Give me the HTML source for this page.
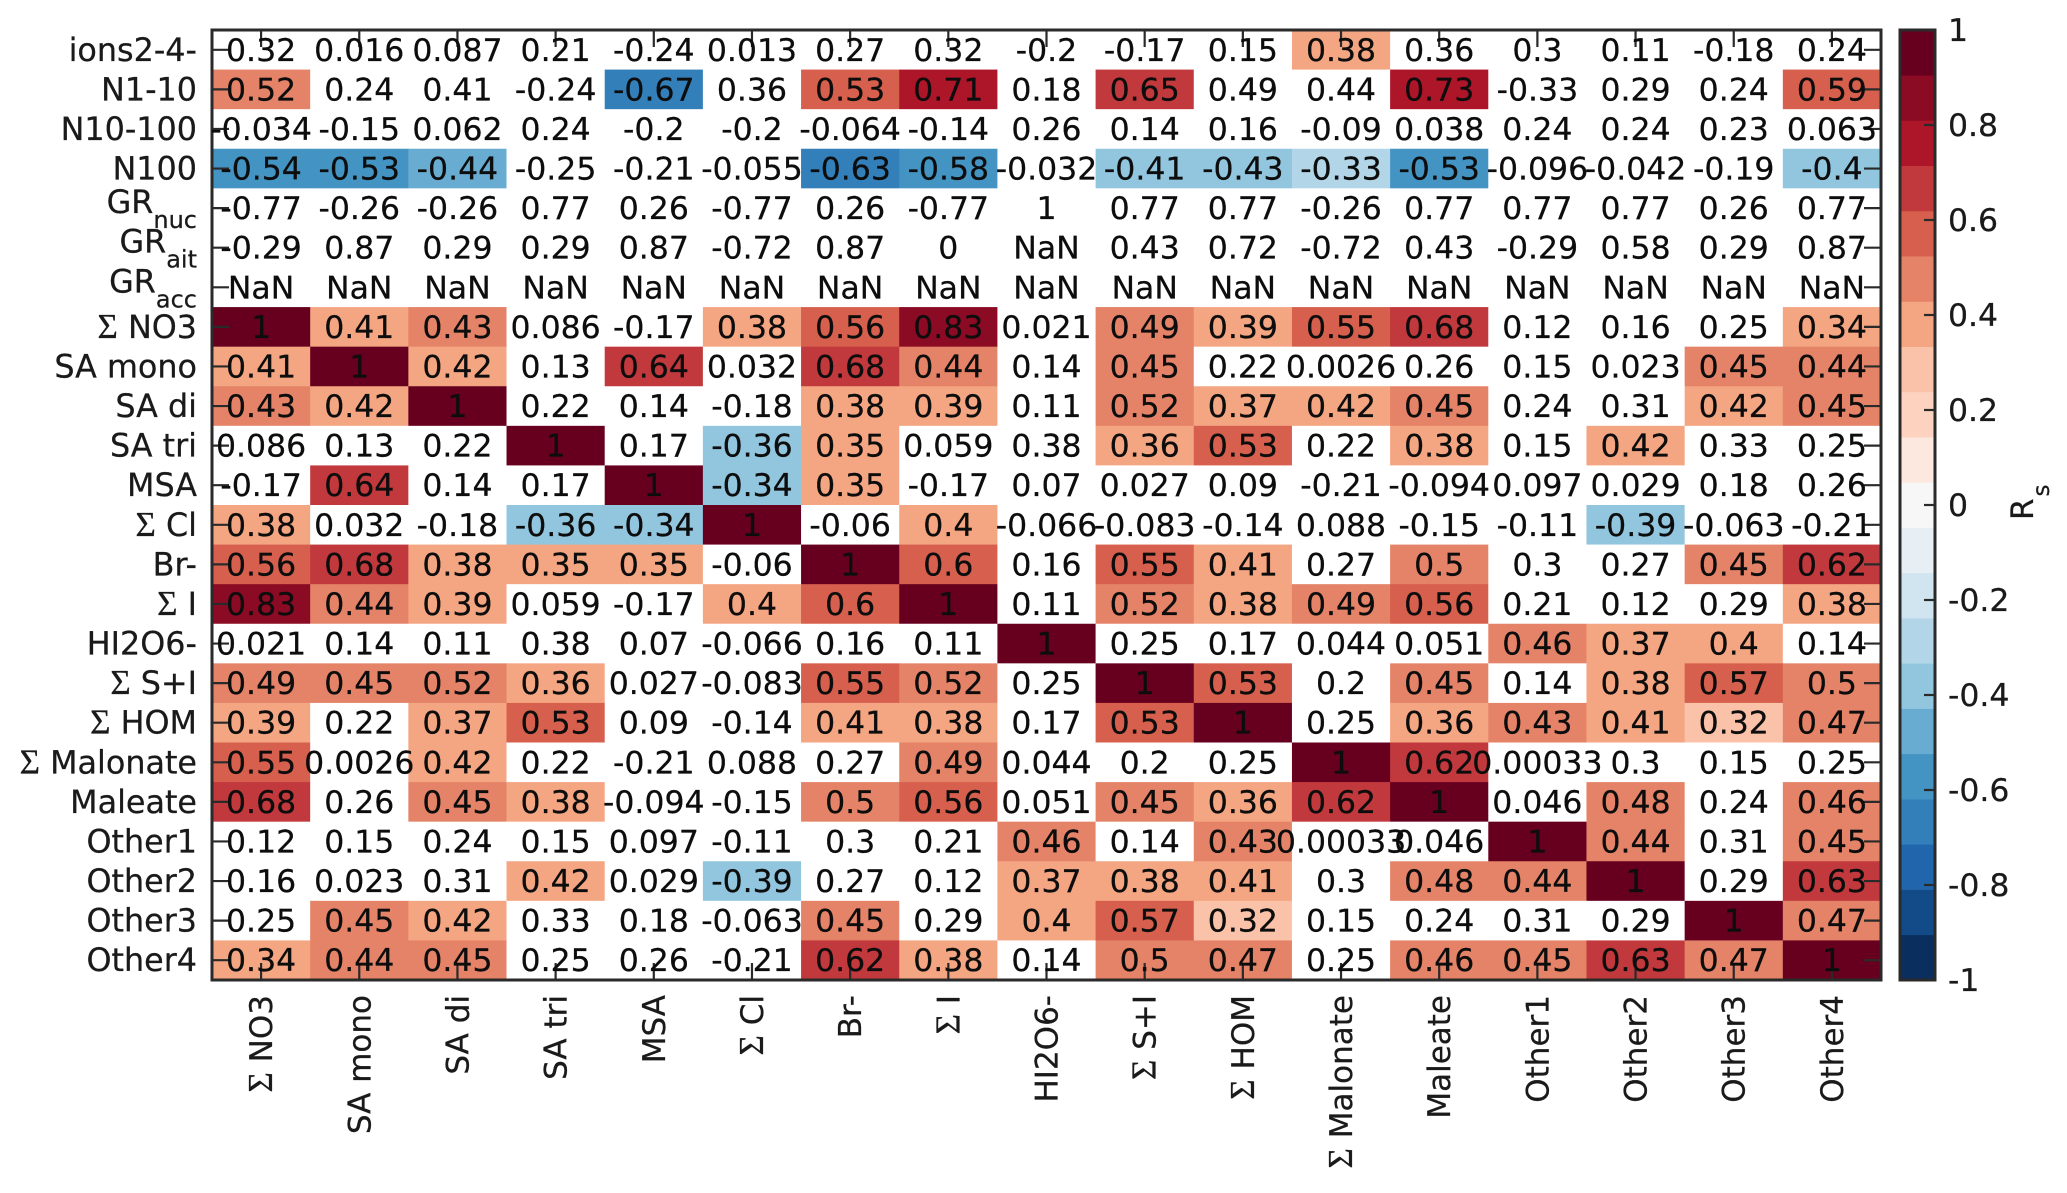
<!DOCTYPE html>
<html lang="en">
<head>
<meta charset="utf-8">
<title>Spearman correlation heatmap</title>
<style>
  html, body { margin: 0; padding: 0; background: #fff; }
  svg { display: block; }
  text { font-family: "DejaVu Sans", "Liberation Sans", sans-serif; fill: #0d0d0d; stroke: #0d0d0d; stroke-width: 0.25px; }
  .lbl { fill: #1a1a1a; stroke: #1a1a1a; }
</style>
</head>
<body>
<svg id="chart" xmlns="http://www.w3.org/2000/svg" width="2067" height="1193" viewBox="0 0 2067 1193">
  <rect x="0" y="0" width="2067" height="1193" fill="#fff"></rect>
  <g id="cells"></g>
  <g id="ticks"></g>
  <rect x="212" y="30" width="1669" height="950" fill="none" stroke="#2a2a2a" stroke-width="3"></rect>
  <g id="values"></g>
  <g id="ylabels"></g>
  <g id="xlabels"></g>
  <g id="colorbar"></g>
  <text transform="translate(2033,520) rotate(-90)" font-size="31" class="lbl">R<tspan font-size="23" dy="16" dx="2">s</tspan></text>
</svg>
<script>
const rowLabels = ["ions2-4-","N1-10","N10-100","N100","GR|nuc","GR|ait","GR|acc","Σ NO3","SA mono","SA di","SA tri","MSA","Σ Cl","Br-","Σ I","HI2O6-","Σ S+I","Σ HOM","Σ Malonate","Maleate","Other1","Other2","Other3","Other4"];
const colLabels = ["Σ NO3","SA mono","SA di","SA tri","MSA","Σ Cl","Br-","Σ I","HI2O6-","Σ S+I","Σ HOM","Σ Malonate","Maleate","Other1","Other2","Other3","Other4"];
const correlationValues = [
  [0.32,0.016,0.087,0.21,-0.24,0.013,0.27,0.32,-0.2,-0.17,0.15,0.38,0.36,0.3,0.11,-0.18,0.24],
  [0.52,0.24,0.41,-0.24,-0.67,0.36,0.53,0.7145,0.18,0.65,0.49,0.44,0.73,-0.33,0.29,0.24,0.59],
  [-0.034,-0.15,0.062,0.24,-0.2,-0.2,-0.064,-0.14,0.26,0.14,0.16,-0.09,0.038,0.24,0.24,0.23,0.063],
  [-0.54,-0.53,-0.44,-0.25,-0.21,-0.055,-0.63,-0.58,-0.032,-0.41,-0.4255,-0.33,-0.53,-0.096,-0.042,-0.19,-0.4],
  [-0.77,-0.26,-0.26,0.77,0.26,-0.77,0.26,-0.77,1,0.77,0.77,-0.26,0.77,0.77,0.77,0.26,0.77],
  [-0.29,0.87,0.29,0.29,0.87,-0.72,0.87,0,NaN,0.43,0.72,-0.72,0.43,-0.29,0.58,0.29,0.87],
  [NaN,NaN,NaN,NaN,NaN,NaN,NaN,NaN,NaN,NaN,NaN,NaN,NaN,NaN,NaN,NaN,NaN],
  [1,0.41,0.43,0.086,-0.17,0.38,0.56,0.83,0.021,0.49,0.39,0.55,0.68,0.12,0.16,0.25,0.34],
  [0.41,1,0.42,0.13,0.64,0.032,0.68,0.44,0.14,0.45,0.22,0.0026,0.26,0.15,0.023,0.45,0.44],
  [0.43,0.42,1,0.22,0.14,-0.18,0.38,0.39,0.11,0.52,0.37,0.42,0.45,0.24,0.31,0.42,0.45],
  [0.086,0.13,0.22,1,0.17,-0.36,0.35,0.059,0.38,0.36,0.53,0.22,0.38,0.15,0.42,0.33,0.25],
  [-0.17,0.64,0.14,0.17,1,-0.34,0.35,-0.17,0.07,0.027,0.09,-0.21,-0.094,0.097,0.029,0.18,0.26],
  [0.38,0.032,-0.18,-0.36,-0.34,1,-0.06,0.4,-0.066,-0.083,-0.14,0.088,-0.15,-0.11,-0.39,-0.063,-0.21],
  [0.56,0.68,0.38,0.35,0.35,-0.06,1,0.6,0.16,0.55,0.41,0.27,0.5,0.3,0.27,0.45,0.62],
  [0.83,0.44,0.39,0.059,-0.17,0.4,0.6,1,0.11,0.52,0.38,0.49,0.56,0.21,0.12,0.29,0.38],
  [0.021,0.14,0.11,0.38,0.07,-0.066,0.16,0.11,1,0.25,0.17,0.044,0.051,0.46,0.37,0.4,0.14],
  [0.49,0.45,0.52,0.36,0.027,-0.083,0.55,0.52,0.25,1,0.53,0.2,0.45,0.14,0.38,0.57,0.5],
  [0.39,0.22,0.37,0.53,0.09,-0.14,0.41,0.38,0.17,0.53,1,0.25,0.36,0.43,0.41,0.32,0.47],
  [0.55,0.0026,0.42,0.22,-0.21,0.088,0.27,0.49,0.044,0.2,0.25,1,0.62,0.00033,0.3,0.15,0.25],
  [0.68,0.26,0.45,0.38,-0.094,-0.15,0.5,0.56,0.051,0.45,0.36,0.62,1,0.046,0.48,0.24,0.46],
  [0.12,0.15,0.24,0.15,0.097,-0.11,0.3,0.21,0.46,0.14,0.43,0.00033,0.046,1,0.44,0.31,0.45],
  [0.16,0.023,0.31,0.42,0.029,-0.39,0.27,0.12,0.37,0.38,0.41,0.3,0.48,0.44,1,0.29,0.63],
  [0.25,0.45,0.42,0.33,0.18,-0.063,0.45,0.29,0.4,0.57,0.32,0.15,0.24,0.31,0.29,1,0.47],
  [0.34,0.44,0.45,0.25,0.26,-0.21,0.62,0.38,0.14,0.5,0.47,0.25,0.46,0.45,0.63,0.47,1]
];
const significantCells = [
  "00000000000100000",
  "10001011010010001",
  "00000000000000000",
  "11100011011110001",
  "00000000000000000",
  "00000000000000000",
  "00000000000000000",
  "11100111011110001",
  "11101011010000011",
  "11100011011110011",
  "00010110011010100",
  "01001110000000000",
  "10011101000000100",
  "11111011011010011",
  "11100111011110001",
  "00000000100001110",
  "11110011011010111",
  "10110011011011111",
  "10100001000110000",
  "10110011011110101",
  "00000000101001101",
  "00010100111011101",
  "01100010111000011",
  "11100011011011111"
];
const colorbarColors = ["#0a2f5f","#134b89","#2166ac","#327fba","#4393c3","#69acd2","#92c5de","#b2d6e8","#d1e5f0","#e7eff5","#f7f7f7","#fce8de","#fdd3bf","#fac3a9","#f4a582","#e58368","#d6604d","#c1393c","#ad1529","#8b0a24","#67001f"];
const colorbarTicks = [1,0.8,0.6,0.4,0.2,0,-0.2,-0.4,-0.6,-0.8,-1];

const SVG_NS = "http://www.w3.org/2000/svg";
const plot = { left: 212, top: 30, right: 1881, bottom: 980 };
const bar = { left: 1900, right: 1935, top: 30, bottom: 980 };
const xBand = (plot.right - plot.left) / colLabels.length;
const yBand = (plot.bottom - plot.top) / rowLabels.length;
const xScale = i => plot.left + i * xBand;
const yScale = j => plot.top + j * yBand;
const barScale = v => bar.top + (1 - v) / 2 * (bar.bottom - bar.top);

function make(tag, attrs, parent, content) {
  const el = document.createElementNS(SVG_NS, tag);
  for (const k in attrs) el.setAttribute(k, attrs[k]);
  if (content !== undefined) el.textContent = content;
  parent.appendChild(el);
  return el;
}
function colorFor(v) {
  const n = colorbarColors.length;
  const idx = Math.max(0, Math.min(n - 1, Math.floor((v + 1) / 2 * n)));
  return colorbarColors[idx];
}
function formatValue(v) {
  return Number.isNaN(v) ? "NaN" : String(Number(v.toPrecision(2)));
}
function slug(s) {
  return s.replace(/[|]/g, "-").replace(/Σ /g, "sum-").replace(/[^A-Za-z0-9-]+/g, "-").toLowerCase();
}
function fillLabel(el, label) {
  if (label.startsWith("Σ ")) {
    make("tspan", { "font-family": '"Liberation Serif", serif', "font-size": "35" }, el, "Σ");
    make("tspan", {}, el, "\u00a0" + label.slice(2));
  } else if (label.includes("|")) {
    const parts = label.split("|");
    make("tspan", { dy: "-6" }, el, parts[0]);
    make("tspan", { "font-size": "24", dy: "15" }, el, parts[1]);
  } else {
    el.textContent = label;
  }
}

const cellsG = document.getElementById("cells");
const valuesG = document.getElementById("values");
const ticksG = document.getElementById("ticks");
const yG = document.getElementById("ylabels");
const xG = document.getElementById("xlabels");
const barG = document.getElementById("colorbar");

rowLabels.forEach((row, j) => {
  colLabels.forEach((col, i) => {
    const v = correlationValues[j][i];
    const shown = significantCells[j][i] === "1" && !Number.isNaN(v);
    const cell = make("rect", {
      x: xScale(i), y: yScale(j), width: xBand + 0.4, height: yBand + 0.4,
      fill: shown ? colorFor(v) : "#ffffff"
    }, cellsG);
    
    
    const txt = make("text", {
      x: xScale(i) + xBand / 2, y: yScale(j) + yBand / 2 + 11,
      "text-anchor": "middle", "font-size": "31.5"
    }, valuesG, formatValue(v));
    
    
  });
  const cy = yScale(j) + yBand / 2;
  const label = make("text", { x: 197, y: cy + 11, "text-anchor": "end", "font-size": "31.8", class: "lbl" }, yG);
  fillLabel(label, row);
  
  
  const tl = make("line", { x1: plot.left, x2: plot.left + 17, y1: cy, y2: cy, stroke: "#2a2a2a", "stroke-width": 2.2 }, ticksG);
  
  
  const tr = make("line", { x1: plot.right - 17, x2: plot.right, y1: cy, y2: cy, stroke: "#2a2a2a", "stroke-width": 2.2 }, ticksG);
  
  
});

colLabels.forEach((col, i) => {
  const cx = xScale(i) + xBand / 2;
  const label = make("text", {
    transform: "translate(" + (cx + 11) + ",995) rotate(-90)",
    "text-anchor": "end", "font-size": "31", class: "lbl"
  }, xG);
  fillLabel(label, col);
  
  
  const tt = make("line", { x1: cx, x2: cx, y1: plot.top, y2: plot.top + 17, stroke: "#2a2a2a", "stroke-width": 2.2 }, ticksG);
  
  
  const tb = make("line", { x1: cx, x2: cx, y1: plot.bottom - 17, y2: plot.bottom, stroke: "#2a2a2a", "stroke-width": 2.2 }, ticksG);
  
  
});

colorbarColors.forEach((color, k) => {
  const n = colorbarColors.length;
  const hi = -1 + (k + 1) * 2 / n;
  const lo = -1 + k * 2 / n;
  const band = make("rect", {
    x: bar.left, width: bar.right - bar.left,
    y: barScale(hi), height: barScale(lo) - barScale(hi) + 0.3, fill: color
  }, barG);
  
  
});
const barFrame = make("rect", {
  x: bar.left, y: bar.top, width: bar.right - bar.left, height: bar.bottom - bar.top,
  fill: "none", stroke: "#2a2a2a", "stroke-width": 3
}, barG);


colorbarTicks.forEach(t => {
  const y = barScale(t);
  if (t !== 1 && t !== -1) {
    const tick = make("line", { x1: bar.right - 11, x2: bar.right, y1: y, y2: y, stroke: "#2a2a2a", "stroke-width": 2.2 }, barG);
    
    
  }
  const lab = make("text", { x: 1948, y: y + 11, "font-size": "31.5", class: "lbl" }, barG, String(t));
  
  
});
</script>
</body>
</html>
